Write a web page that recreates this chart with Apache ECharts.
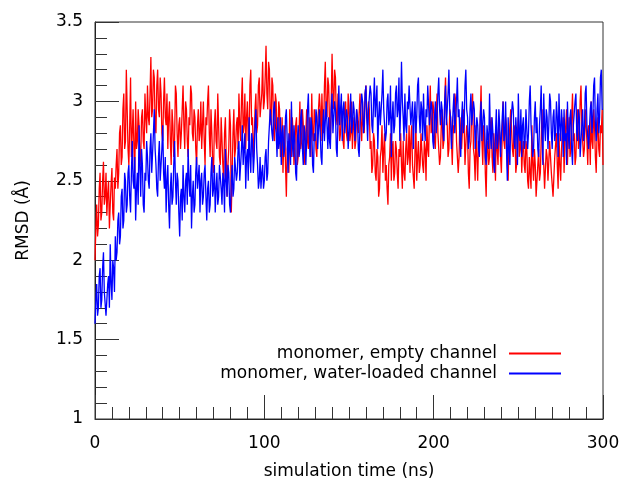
<!DOCTYPE html>
<html>
<head>
<meta charset="utf-8">
<script src="https://cdn.jsdelivr.net/npm/echarts@6/dist/echarts.min.js"></script>
<style>html,body{margin:0;padding:0;background:#fff}#c{width:624px;height:479px}</style>
</head>
<body>
<div id="c"></div>
<script>
// time step of samples (ns)
var timeStep = 0.5;
var seriesNames = ['monomer, empty channel', 'monomer, water-loaded channel'];
var xTicks = [0, 100, 200, 300];
var yTicks = [1, 1.5, 2, 2.5, 3, 3.5];

var emptyChannel = [
2.00,2.20, 2.35,2.15, 2.22,2.45, 2.55,2.25, 2.30,2.50, 2.62,2.35, 2.40,2.55, 2.28,2.42, 2.50,2.20, 2.35,2.48, 2.58,2.30, 2.25,2.52, 2.45,2.60,
2.70,2.45, 2.55,2.80, 2.85,2.60, 2.65,2.95, 3.05,2.70, 2.75,3.20, 2.95,2.70, 2.60,2.85, 3.15,2.65, 2.80,2.95, 2.70,2.55, 3.00,2.70, 2.75,2.95,
2.85,2.60, 2.65,2.90, 2.95,2.75, 2.70,3.05, 2.90,2.80,
3.10,2.90, 2.85,3.05, 3.28,2.90, 2.95,3.20, 3.15,2.85, 2.80,3.10, 3.20,2.95, 2.90,3.15, 3.05,2.80, 2.75,3.00, 3.15,2.90, 2.85,3.05,
2.70,2.90, 3.00,2.75, 2.60,2.95, 2.85,2.65, 2.75,3.10, 3.05,2.80, 2.65,2.85, 2.90,2.70,
2.80,2.95, 3.10,2.85, 2.70,3.00, 2.95,2.75, 2.65,2.90, 2.85,3.10, 3.05,2.80, 2.75,2.95, 2.90,2.70, 2.60,2.85, 2.95,2.75, 2.80,3.00,
2.70,2.85, 3.00,2.75, 2.60,2.90, 2.85,3.00, 3.10,2.80, 2.65,2.95, 2.80,2.60, 2.55,2.85, 2.95,2.75, 2.70,3.05, 2.85,2.65, 2.60,2.90,
2.75,2.60, 2.50,2.80, 2.90,2.65, 2.40,2.60, 2.70,2.95, 2.85,2.30, 2.55,2.80, 2.95,2.65, 2.70,2.85,
2.90,2.70, 3.05,2.85, 2.75,3.00, 3.15,2.80, 2.85,3.05, 2.70,2.90, 3.00,2.75, 2.80,3.10, 3.20,2.85, 2.90,2.65, 2.75,2.95, 3.05,2.80, 2.85,3.10, 3.15,2.90, 2.90,3.05, 3.25,2.95, 3.00,3.15,
3.35,3.05, 2.95,3.25, 3.20,2.90, 2.85,3.15, 3.10,2.80, 2.75,3.05, 3.00,2.70, 2.80,3.00, 2.95,2.65,
2.70,2.90, 2.55,2.75, 2.85,2.60, 2.40,2.70, 2.75,2.55, 2.95,2.70, 2.65,2.90, 2.80,2.60,
2.70,2.85, 2.90,2.60, 2.65,2.80, 3.00,2.70, 2.75,2.95, 2.85,2.65, 2.60,2.80, 2.95,2.75, 2.70,2.90, 2.80,2.65, 3.05,2.80, 2.75,2.95, 2.90,2.70, 2.65,2.85, 2.85,3.05, 2.95,2.75,
3.05,2.85, 2.80,3.10, 3.25,2.95, 2.90,3.15, 3.10,2.85, 2.75,3.00, 3.30,3.05, 2.95,3.20, 3.15,2.90, 2.85,3.05, 3.05,2.75, 2.80,2.95,
2.90,2.75, 2.70,2.95, 3.00,2.80, 2.75,3.05, 2.95,2.75, 2.80,3.00, 2.70,2.85, 2.90,2.70, 2.75,2.95, 2.95,2.80, 2.80,3.05, 2.85,2.75,
3.00,2.85, 2.80,3.05, 3.10,2.90, 2.85,3.00, 2.95,2.70, 2.75,2.55,
2.60,2.80, 2.75,2.55, 2.50,2.70, 2.65,2.40, 2.45,2.65, 2.70,2.85, 2.55,2.70, 2.80,2.50, 2.60,2.45, 2.35,2.60, 2.65,2.80, 2.50,2.70, 2.75,2.50, 2.55,2.75, 2.70,2.55, 2.45,2.70, 2.65,2.80,
2.60,2.45, 2.75,2.55, 2.50,2.70, 2.80,2.60, 2.65,2.85, 2.55,2.75, 2.85,2.60, 2.60,2.45, 2.70,2.85, 2.50,2.65, 2.75,2.55, 2.60,2.80, 2.80,2.60, 2.55,2.75, 2.70,2.50, 2.85,2.70, 2.65,2.90,
3.10,2.80, 2.85,3.00, 2.95,2.75, 2.70,2.90, 3.05,2.80, 2.80,2.60, 2.65,2.85, 2.95,2.70, 2.75,3.00, 3.15,2.90, 2.85,2.65, 2.70,2.95, 2.90,2.75, 2.60,2.85, 2.80,3.05, 3.00,2.75, 2.75,2.55, 2.65,2.90, 2.90,2.70, 2.70,2.95, 2.85,2.60,
2.60,2.85, 2.80,2.55, 2.45,2.70, 2.75,2.95, 3.05,2.70, 2.65,2.50, 2.85,2.65, 2.50,2.75, 2.70,2.90, 3.10,2.75, 2.60,2.85, 2.80,2.55, 2.40,2.70, 2.75,2.60, 2.65,2.85, 2.90,2.65, 2.55,2.80, 2.70,2.50, 2.85,2.70,
2.60,2.85, 2.80,2.65, 2.55,2.80, 3.00,2.75, 2.70,2.90, 2.85,2.60, 2.50,2.75, 2.75,2.95, 2.95,2.70, 2.65,2.85, 2.80,2.55, 2.60,2.80, 2.90,2.65, 2.70,2.85, 2.55,2.70, 2.75,2.60,
2.55,2.75, 2.70,2.50, 2.45,2.65, 2.65,2.45, 2.85,2.60, 2.50,2.70, 2.60,2.40, 2.40,2.60, 2.70,2.50, 2.55,2.75, 2.95,2.65, 2.60,2.45, 2.45,2.70, 2.65,2.50, 2.50,2.75, 2.75,2.55, 2.55,2.40, 2.40,2.65, 2.65,2.80, 2.60,2.45, 2.80,2.60, 2.50,2.70, 2.70,2.90, 2.55,2.75,
2.75,2.95, 2.60,2.80, 2.90,2.65, 2.70,2.90, 3.05,2.75, 2.80,2.60, 2.65,2.85, 2.95,2.70, 2.75,3.00, 3.10,2.85, 2.85,2.65, 2.70,2.95, 2.95,2.75, 2.60,2.85, 2.80,2.60, 3.00,2.75, 2.70,2.95, 2.85,2.65, 2.55,2.80, 2.90,2.70, 2.65,2.85, 2.80,2.95, 2.60
];

var waterLoaded = [
1.60,1.75, 1.85,1.65, 1.70,1.90, 1.95,1.70, 1.75,1.95, 2.05,1.80, 1.80,1.65, 1.65,1.85, 1.90,1.70, 2.10,1.85, 1.75,2.00, 1.95,1.80, 2.15,2.00,
2.05,2.25, 2.30,2.10, 2.15,2.40, 2.45,2.20, 2.25,2.55, 2.50,2.30,
2.35,2.55, 2.60,2.40, 2.30,2.55, 2.75,2.50, 2.45,2.65, 2.25,2.45, 2.55,2.35, 2.85,2.60, 2.40,2.70, 2.60,2.35, 2.30,2.55, 2.50,2.75,
2.65,2.50, 2.45,2.70, 2.80,2.55, 2.55,2.80, 2.95,2.70, 2.60,2.45, 2.40,2.65, 2.75,2.50, 2.50,2.70, 2.85,2.55,
2.45,2.65, 2.30,2.50, 2.60,2.35, 2.20,2.45, 2.55,2.35, 2.40,2.60, 2.75,2.50, 2.35,2.55, 2.50,2.30, 2.15,2.40, 2.45,2.25, 2.60,2.40, 2.30,2.50, 2.55,2.35, 2.70,2.50, 2.40,2.60, 2.20,2.40, 2.50,2.30, 2.35,2.55, 2.65,2.45,
2.45,2.60, 2.30,2.50, 2.55,2.35, 2.40,2.55, 2.60,2.40, 2.25,2.45, 2.50,2.30, 2.35,2.55, 2.65,2.40, 2.45,2.60, 2.30,2.45, 2.55,2.35, 2.40,2.60, 2.60,2.45, 2.35,2.55, 2.50,2.30, 2.70,2.50, 2.40,2.60, 2.55,2.35, 2.30,2.50, 2.60,2.40, 2.45,2.65, 2.65,2.50,
2.55,2.70, 2.75,2.50, 2.50,2.70, 2.85,2.60, 2.60,2.80, 2.45,2.65, 2.70,2.50, 2.90,2.65, 2.55,2.80, 2.75,2.55, 2.65,2.85, 2.95,2.70, 2.60,2.45, 2.50,2.65,
2.45,2.55, 2.60,2.45, 2.50,2.65, 2.70,2.50, 2.55,2.75, 2.85,2.95,
2.95,2.80, 2.75,2.95, 3.00,2.85, 2.80,2.65, 2.90,2.70, 2.75,2.90,
2.60,2.80, 2.85,2.65, 2.70,2.90, 2.95,2.75, 2.55,2.80, 2.80,2.60, 3.00,2.75, 2.65,2.85, 2.75,2.55, 2.50,2.75, 2.85,2.65, 2.70,2.90, 2.95,2.70, 2.60,2.85, 2.80,2.60, 2.75,2.95, 3.05,2.80, 2.65,2.90, 2.85,2.60, 2.55,2.80, 2.75,2.95, 2.90,2.70, 2.70,2.95, 2.80,2.65, 2.60,2.85, 2.95,2.75, 2.75,3.00, 2.85,2.70,
2.90,2.75, 2.70,2.95, 3.05,2.80, 2.80,3.00, 2.95,2.70, 2.65,2.90, 3.10,2.85, 2.85,3.05, 2.75,2.95, 3.00,2.80, 2.80,2.95, 2.90,2.70, 2.70,2.90, 3.05,2.80, 2.85,3.00, 2.95,2.75, 2.75,2.95, 2.90,2.70, 2.65,2.85, 2.85,3.05,
3.00,2.80, 2.85,3.05, 3.10,2.90, 2.75,2.95, 2.95,3.10, 3.05,2.85, 2.80,3.00, 3.15,2.90, 2.90,3.10, 2.70,2.90,
3.00,2.85, 2.85,3.05, 3.20,2.95, 2.95,2.75, 2.80,3.00, 3.05,2.85, 2.90,3.10, 2.65,2.90, 3.00,2.80, 2.85,3.05,
3.10,2.90, 2.95,3.15, 2.75,2.95, 3.25,3.00, 2.90,2.75, 3.05,2.85, 2.80,3.00, 2.95,3.10, 3.10,2.85, 2.85,3.00,
2.70,2.90, 3.00,2.80, 2.90,3.10, 3.15,2.90, 2.80,3.00, 2.95,2.75, 3.05,2.85, 2.75,2.95, 2.90,3.10, 3.10,2.85,
2.85,3.00, 2.95,2.75, 2.70,2.90, 3.00,2.80, 2.90,3.05, 3.15,2.95, 2.85,3.00,
2.95,2.80, 2.75,3.00, 3.10,2.85, 2.85,3.05, 3.20,2.95, 2.90,2.70, 2.70,2.95, 3.05,2.80, 2.80,3.00, 3.15,2.90, 2.95,2.75, 2.65,2.90, 3.00,2.80, 2.85,3.10, 3.20,2.95, 2.90,2.70, 2.75,2.95, 3.05,2.85, 2.85,3.00, 2.95,2.70, 2.70,2.90,
2.85,2.70, 2.65,2.90, 3.00,2.75, 2.75,2.95, 2.90,2.65, 2.60,2.85, 2.85,2.70, 3.05,2.80, 2.70,2.90, 2.80,2.60, 2.55,2.80, 2.95,2.70, 2.75,2.95, 2.85,2.65, 2.65,2.90, 3.00,2.75, 2.80,3.00, 2.70,2.50, 2.90,2.70, 2.60,2.85, 2.85,3.00, 2.95,2.75, 2.70,2.90, 2.80,2.60, 3.05,2.80, 2.75,2.95, 2.65,2.85, 2.90,2.70,
2.75,2.95, 2.95,2.70, 2.80,3.00, 3.10,2.85, 2.85,2.65, 2.70,2.90, 3.00,2.80, 2.90,2.70, 2.65,2.85, 2.95,3.10, 2.80,2.60, 3.05,2.85, 2.75,2.95, 2.90,2.70, 2.85,3.05, 3.00,2.80, 2.70,2.90, 2.95,2.75, 2.80,3.00, 2.90,2.65, 3.05,2.85, 2.75,2.95, 2.85,2.65, 2.95,2.75,
2.80,2.60, 3.00,2.80, 2.70,2.90, 2.95,2.70, 2.60,2.85, 2.85,3.00, 3.05,2.80, 2.75,2.95, 2.90,2.65, 2.65,2.85, 2.95,2.75, 2.80,3.05, 3.10,2.85, 2.85,2.70, 2.70,2.95, 3.00,2.80, 2.90,3.10, 3.15,2.85, 2.75,2.95, 3.05,2.80, 2.90,3.15, 3.20,2.95, 2.95
];

function pairs(arr){ return arr.map(function(v,i){ return [i*timeStep, v]; }); }

var FONT = 'DejaVu Sans';
var FS = 17;
var chart = echarts.init(document.getElementById('c'), null, {renderer:'canvas'});
var tickStyle = {color:'#333', width:1};
chart.setOption({
  animation:false,
  backgroundColor:'#fff',
  grid:{left:95, right:21, top:22, bottom:60, outerBoundsMode:'none', containLabel:false,
        show:true, borderColor:'#333', borderWidth:1, backgroundColor:'transparent'},
  xAxis:{
    type:'value', min:xTicks[0], max:xTicks[xTicks.length-1], interval:100,
    axisLine:{show:true, onZero:false, lineStyle:{color:'#222', width:1}},
    axisTick:{show:true, inside:true, length:24, lineStyle:tickStyle},
    minorTick:{show:true, splitNumber:10, length:12, lineStyle:tickStyle},
    splitLine:{show:false},
    axisLabel:{color:'#000', fontSize:FS, fontFamily:FONT, margin:16},
    name:'simulation time (ns)', nameLocation:'middle', nameGap:44,
    nameTextStyle:{color:'#000', fontSize:FS, fontFamily:FONT}
  },
  yAxis:{
    type:'value', min:yTicks[0], max:yTicks[yTicks.length-1], interval:0.5,
    axisLine:{show:true, onZero:false, lineStyle:{color:'#222', width:1}},
    axisTick:{show:true, inside:true, length:24, lineStyle:tickStyle},
    minorTick:{show:true, splitNumber:5, length:12, lineStyle:tickStyle},
    splitLine:{show:false},
    axisLabel:{color:'#000', fontSize:FS, fontFamily:FONT, margin:12,
      formatter:function(v){ return String(v); }},
    name:'RMSD (Å)', nameLocation:'middle', nameGap:63,
    nameTextStyle:{color:'#000', fontSize:FS, fontFamily:FONT}
  },
  legend:[
    {data:[seriesNames[0]], right:63, top:345, align:'right', orient:'vertical', padding:0,
     icon:'rect', itemWidth:52, itemHeight:2,
     textStyle:{color:'#000', fontSize:FS, fontFamily:FONT, padding:[0,7,0,0]}},
    {data:[seriesNames[1]], right:63, top:365, align:'right', orient:'vertical', padding:0,
     icon:'rect', itemWidth:52, itemHeight:2,
     textStyle:{color:'#000', fontSize:FS, fontFamily:FONT, padding:[0,7,0,0]}}
  ],
  series:[
    {name:seriesNames[0], type:'line', data:pairs(emptyChannel), symbol:'none', showSymbol:false,
     lineStyle:{color:'#ff0000', width:1.3}, itemStyle:{color:'#ff0000'}, z:2},
    {name:seriesNames[1], type:'line', data:pairs(waterLoaded), symbol:'none', showSymbol:false,
     lineStyle:{color:'#0000ff', width:1.3}, itemStyle:{color:'#0000ff'}, z:3}
  ]
});
</script>
</body>
</html>
